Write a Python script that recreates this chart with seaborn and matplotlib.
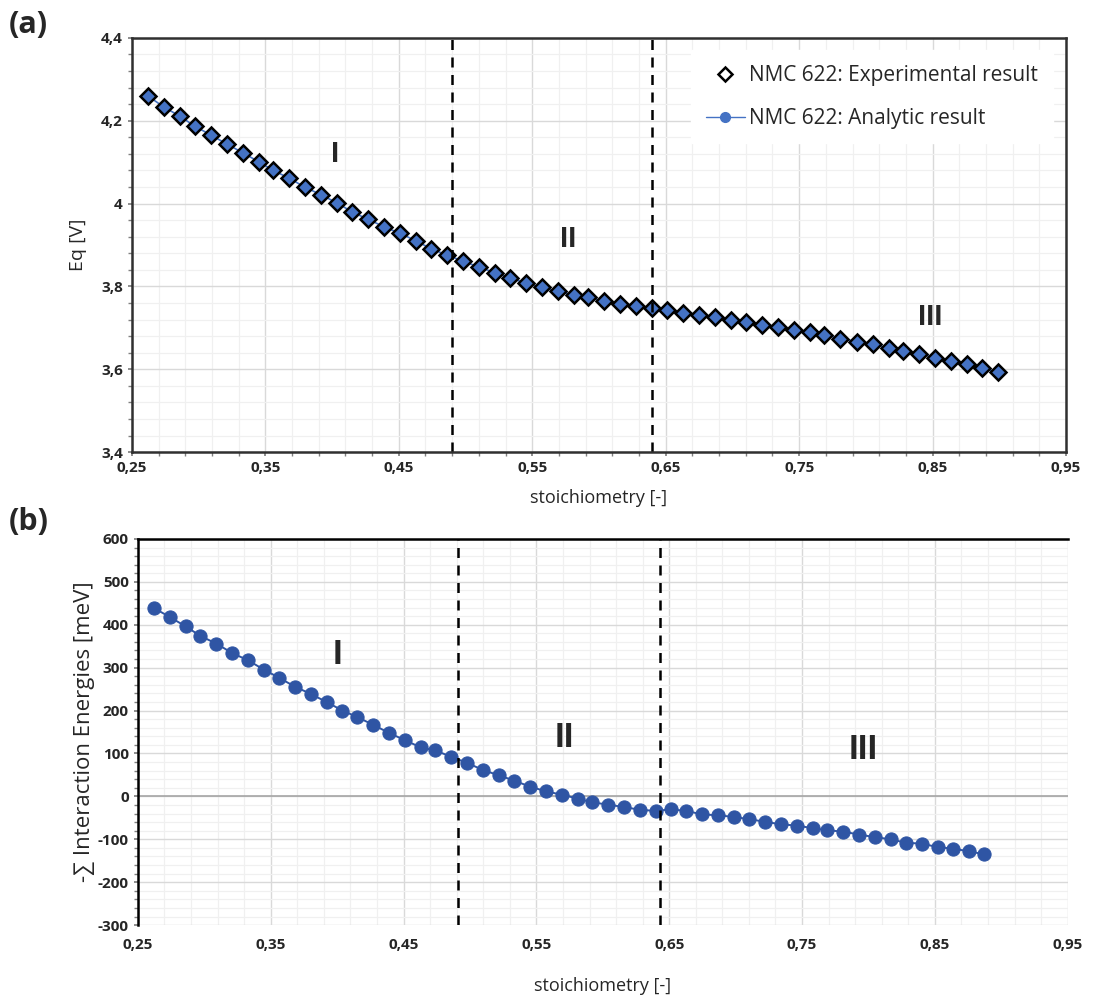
import numpy as np
import pandas as pd
import seaborn as sns
import matplotlib.pyplot as plt
from matplotlib.ticker import MultipleLocator, FuncFormatter
from matplotlib.lines import Line2D

# stoichiometry values
stoich = [0.262, 0.274, 0.286, 0.297, 0.309, 0.321, 0.333, 0.345, 0.356, 0.368,
          0.380, 0.392, 0.404, 0.415, 0.427, 0.439, 0.451, 0.463, 0.474, 0.486,
          0.498, 0.510, 0.522, 0.533, 0.545, 0.557, 0.569, 0.581, 0.592, 0.604,
          0.616, 0.628, 0.640, 0.651, 0.663, 0.675, 0.687, 0.699, 0.710, 0.722,
          0.734, 0.746, 0.758, 0.769, 0.781, 0.793, 0.805, 0.817, 0.828, 0.840,
          0.852, 0.864, 0.876, 0.887, 0.899]

# (a) equilibrium potential [V]
eq_volt = [4.260, 4.233, 4.211, 4.187, 4.166, 4.144, 4.123, 4.101, 4.080, 4.061,
           4.039, 4.021, 4.001, 3.980, 3.962, 3.944, 3.928, 3.910, 3.891, 3.876,
           3.861, 3.847, 3.833, 3.821, 3.808, 3.798, 3.788, 3.780, 3.774, 3.764,
           3.758, 3.752, 3.748, 3.742, 3.737, 3.732, 3.725, 3.720, 3.715, 3.708,
           3.701, 3.695, 3.690, 3.683, 3.674, 3.667, 3.660, 3.652, 3.644, 3.637,
           3.628, 3.620, 3.612, 3.602, 3.594]

# (b) sum of interaction energies [meV]
energies = [439, 418, 396, 374, 356, 334, 317, 295, 277, 256,
            239, 220, 200, 185, 167, 148, 131, 114, 107, 92,
            78, 61, 49, 37, 23, 12, 4, -5, -14, -19,
            -25, -31, -34, -30, -34, -42, -44, -48, -53, -59,
            -65, -68, -74, -79, -82, -89, -95, -100, -108, -110,
            -118, -122, -128, -135]

region_labels = ["I", "II", "III"]
bounds_a = [0.49, 0.64]
bounds_b = [0.491, 0.643]

df_a = pd.DataFrame({"stoichiometry": stoich, "Eq": eq_volt})
df_b = pd.DataFrame({"stoichiometry": stoich[:len(energies)], "E": energies})

sns.set_theme(style="white")
plt.rcParams['font.family'] = ['Open Sans', 'DejaVu Sans']

blue_a = "#4472C4"
blue_b = "#2F55A4"

fig = plt.figure(figsize=(10.99, 9.98), dpi=100)
ax1 = fig.add_axes([0.120, 0.547, 0.850, 0.415])
ax2 = fig.add_axes([0.1255, 0.073, 0.846, 0.387])

comma = FuncFormatter(lambda v, p: f"{round(v, 6):g}".replace(".", ","))


def style_axis(ax, ymajor, yminor):
    ax.xaxis.set_major_locator(MultipleLocator(0.1, offset=0.05))
    ax.xaxis.set_minor_locator(MultipleLocator(0.02, offset=0.01))
    ax.yaxis.set_major_locator(MultipleLocator(ymajor))
    ax.yaxis.set_minor_locator(MultipleLocator(yminor))
    ax.grid(which="major", color="#d9d9d9", linewidth=1.0)
    ax.grid(which="minor", color="#f0f0f0", linewidth=0.9)
    ax.set_axisbelow(True)
    ax.xaxis.set_major_formatter(comma)
    ax.yaxis.set_major_formatter(comma)
    ax.tick_params(which="both", direction="out", length=3, color="#808080",
                   bottom=True, left=True, labelsize=11, labelcolor="#262626")
    for lab in ax.get_xticklabels() + ax.get_yticklabels():
        lab.set_fontweight("bold")


# ---- (a) ----
sns.lineplot(data=df_a, x="stoichiometry", y="Eq", ax=ax1, color=blue_a,
             linewidth=1.2, marker="o", markersize=6, markeredgecolor=blue_a)
ax1.plot(df_a["stoichiometry"], df_a["Eq"], linestyle="none", marker="D",
         markersize=8.5, markerfacecolor=blue_a, markeredgecolor="black",
         markeredgewidth=1.8)
ax1.set_xlim(0.25, 0.95)
ax1.set_ylim(3.4, 4.4)
style_axis(ax1, 0.2, 0.04)
for b in bounds_a:
    ax1.axvline(b, color="black", linestyle=(0, (4, 3)), linewidth=1.8)
for s in ax1.spines.values():
    s.set_color("#303030")
    s.set_linewidth(1.8)
ax1.set_xlabel("stoichiometry [-]", fontsize=13, labelpad=10)
ax1.set_ylabel("Eq [V]", fontsize=14, labelpad=10)
for txt, (x, y) in zip(region_labels, [(0.402, 4.12), (0.577, 3.915), (0.848, 3.725)]):
    ax1.text(x, y, txt, ha="center", va="center", fontsize=21, fontweight="bold",
             family=["Liberation Sans", "DejaVu Sans"])

handles = [
    Line2D([], [], linestyle="none", marker="D", markersize=7,
           markerfacecolor="white", markeredgecolor="black", markeredgewidth=1.8),
    Line2D([], [], color=blue_a, linewidth=1.0, marker="o", markersize=7),
]
leg = ax1.legend(handles, ["NMC 622: Experimental result", "NMC 622: Analytic result"],
                 loc="upper right", bbox_to_anchor=(0.997, 0.995),
                 fontsize=15, frameon=True, fancybox=False,
                 edgecolor="white", facecolor="white", framealpha=1,
                 handlelength=1.9, handletextpad=0.2, labelspacing=1.05,
                 borderpad=0.7)
for t in leg.get_texts():
    t.set_color("#262626")

# ---- (b) ----
sns.lineplot(data=df_b, x="stoichiometry", y="E", ax=ax2, color=blue_b,
             linewidth=1.4, marker="o", markersize=9.5, markeredgecolor=blue_b)
ax2.set_xlim(0.25, 0.95)
ax2.set_ylim(-300, 600)
style_axis(ax2, 100, 20)
ax2.tick_params(axis="x", which="both", length=0, pad=9)
ax2.axhline(0, color="#a6a6a6", linewidth=1.2, zorder=1)
for b in bounds_b:
    ax2.axvline(b, color="black", linestyle=(0, (4, 3)), linewidth=1.8)
for side in ["right", "bottom"]:
    ax2.spines[side].set_visible(False)
for side in ["top", "left"]:
    ax2.spines[side].set_color("black")
    ax2.spines[side].set_linewidth(1.8)
ax2.set_xlabel("stoichiometry [-]", fontsize=13, labelpad=18)
ax2.set_ylabel("-∑ Interaction Energies [meV]", fontsize=16, labelpad=2)
for txt, (x, y) in zip(region_labels, [(0.400, 330), (0.571, 137), (0.796, 110)]):
    ax2.text(x, y, txt, ha="center", va="center", fontsize=25, fontweight="bold",
             family=["Liberation Sans", "DejaVu Sans"])

fig.text(0.008, 0.975, "(a)", fontsize=22, fontweight="bold", va="center")
fig.text(0.008, 0.477, "(b)", fontsize=22, fontweight="bold", va="center")

fig.savefig("out.png", dpi=100)
